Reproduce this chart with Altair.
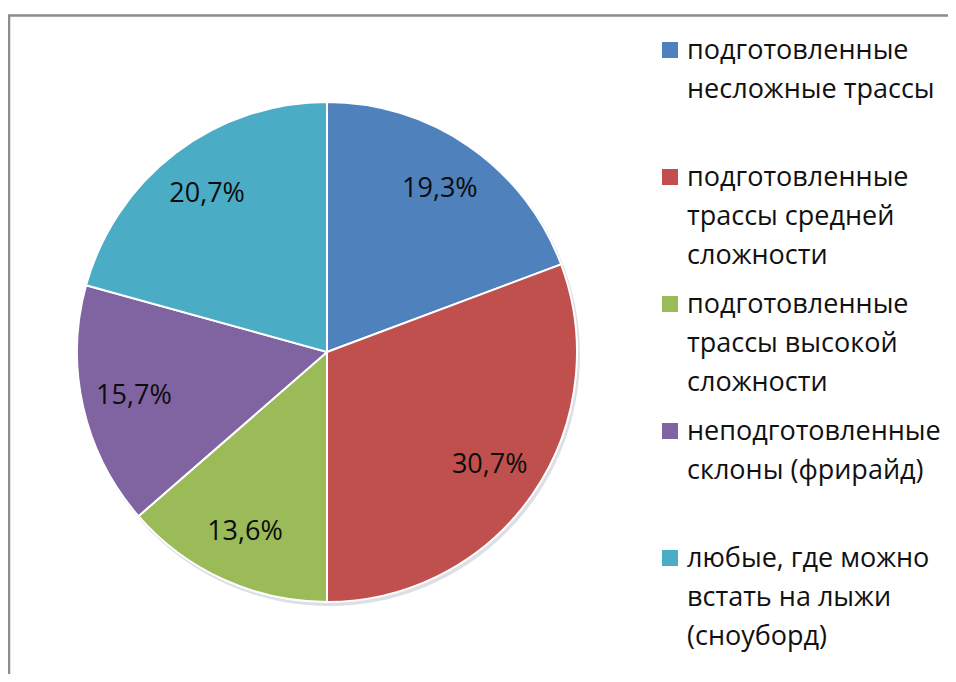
import altair as alt
import pandas as pd

categories = [
    "подготовленные\nнесложные трассы",
    "подготовленные\nтрассы средней\nсложности",
    "подготовленные\nтрассы высокой\nсложности",
    "неподготовленные\nсклоны (фрирайд)",
    "любые, где можно\nвстать на лыжи\n(сноуборд)",
]
values = [19.3, 30.7, 13.6, 15.7, 20.7]
colors = ["#4F81BD", "#C0504D", "#9BBB59", "#8064A2", "#4BACC6"]

FONT = "Open Sans"

df = pd.DataFrame({"cat": categories, "v": values, "order": list(range(len(values)))})

CX, CY, R = 319, 344, 250

base = alt.Chart(df).encode(
    theta=alt.Theta("v:Q", stack=True),
    order=alt.Order("order:Q"),
)

shadow = alt.Chart(pd.DataFrame({"v": [1]})).mark_arc(
    radius=R + 1, color="#9aa3b5", opacity=0.35
).encode(
    x=alt.value(CX + 2), y=alt.value(CY + 3)
)

pie = base.mark_arc(radius=R, stroke="white", strokeWidth=2).encode(
    x=alt.value(CX), y=alt.value(CY),
    color=alt.Color("cat:N", scale=alt.Scale(domain=categories, range=colors), legend=None),
)

labels = base.transform_calculate(
    lbl="replace(format(datum.v, '.1f'), '.', ',') + '%'"
).mark_text(radius=198, font=FONT, fontSize=27, color="#0d0d0d").encode(
    x=alt.value(CX), y=alt.value(CY),
    text="lbl:N",
)

yscale = alt.Scale(type="point", domain=categories, range=[51, 559], padding=0)

leg_sq = alt.Chart(df).mark_square(size=256, opacity=1, yOffset=-9).encode(
    x=alt.value(662),
    y=alt.Y("cat:N", scale=yscale, axis=None),
    color=alt.Color("cat:N", scale=alt.Scale(domain=categories, range=colors), legend=None),
)

leg_txt = alt.Chart(df).mark_text(
    font=FONT, fontSize=27, lineHeight=39, lineBreak="\n", align="left",
    baseline="alphabetic", color="#111111",
).encode(
    x=alt.value(679),
    y=alt.Y("cat:N", scale=yscale, axis=None),
    text="cat:N",
)

border_left = alt.Chart(pd.DataFrame({"v": [1]})).mark_rule(color="#8c8c8c", strokeWidth=2.5).encode(
    x=alt.value(1), y=alt.value(7), y2=alt.value(666)
)
border_top = alt.Chart(pd.DataFrame({"v": [1]})).mark_rule(color="#8c8c8c", strokeWidth=2.5).encode(
    x=alt.value(0), x2=alt.value(940), y=alt.value(7.5)
)

chart = alt.layer(border_left, border_top, shadow, pie, labels, leg_sq, leg_txt).properties(
    width=940, height=666, autosize=alt.AutoSizeParams(type="none"), padding=0,
    background="white",
).configure_view(stroke=None)

chart.save("out.html", embed_options={"renderer": "svg", "actions": False})
